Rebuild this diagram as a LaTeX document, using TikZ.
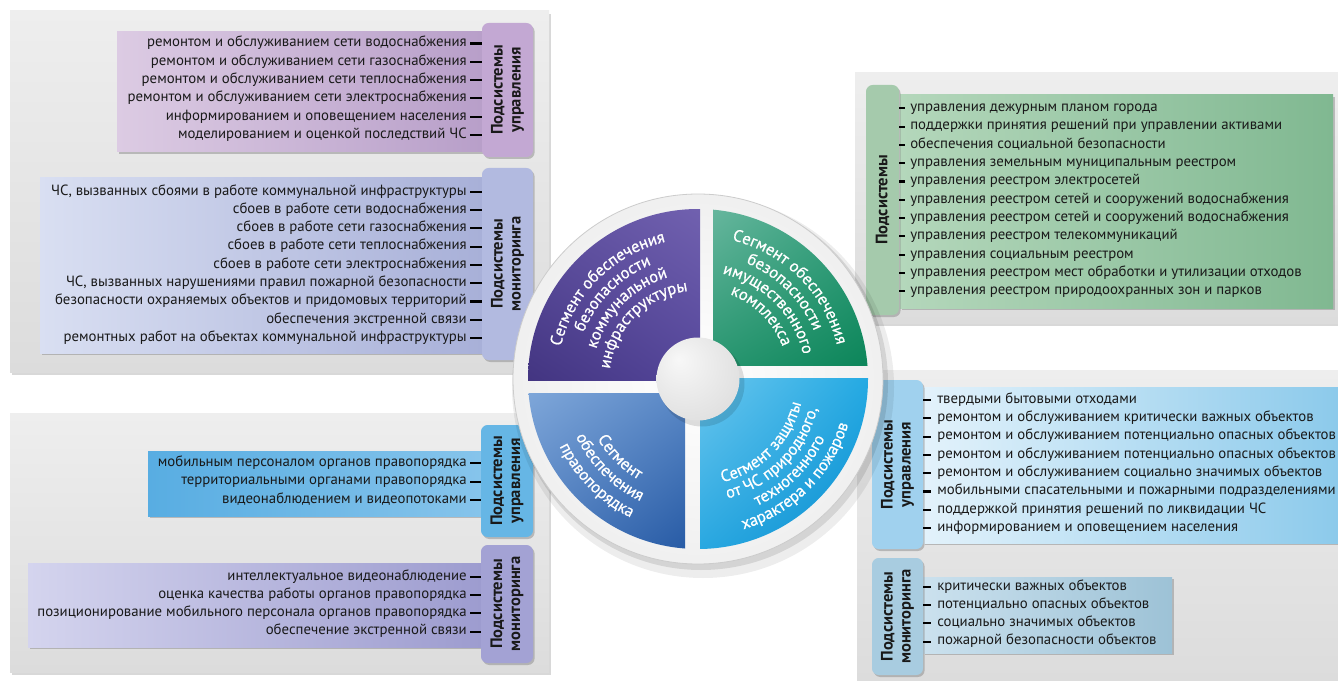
\documentclass[tikz,border=0pt]{standalone}
\usepackage{fontspec}
\setmainfont{PT Sans}
\newfontfamily\segfont[FakeBold=0.7]{PT Sans}
\usetikzlibrary{shadows,shadings,decorations.text,calc}
\definecolor{pnlA}{HTML}{EEEEEE}
\definecolor{pnlB}{HTML}{DCDCDC}
\definecolor{purL}{HTML}{DCCBE3}
\definecolor{purR}{HTML}{B89FC9}
\definecolor{purT}{HTML}{C3A8D3}
\definecolor{lavL}{HTML}{D9DFF2}
\definecolor{lavR}{HTML}{A8B0D8}
\definecolor{lavT}{HTML}{B2BAE0}
\definecolor{bluL}{HTML}{58ADE2}
\definecolor{bluR}{HTML}{86C4EB}
\definecolor{bluT}{HTML}{66B6E5}
\definecolor{vioL}{HTML}{D4D4EE}
\definecolor{vioR}{HTML}{9D9CCF}
\definecolor{vioT}{HTML}{A3A2D4}
\definecolor{grnL}{HTML}{B4D7BB}
\definecolor{grnR}{HTML}{80B891}
\definecolor{grnT}{HTML}{A5CAAC}
\definecolor{skyL}{HTML}{E3F2FB}
\definecolor{skyR}{HTML}{8CCAEB}
\definecolor{skyT}{HTML}{A0D1EE}
\definecolor{stlL}{HTML}{CBE1EE}
\definecolor{stlR}{HTML}{9DC2D6}
\definecolor{stlT}{HTML}{A8CCE0}
\definecolor{pA}{RGB}{96,81,161}\definecolor{pB}{RGB}{114,98,176}\definecolor{pC}{RGB}{66,52,128}\definecolor{pD}{RGB}{84,70,154}
\definecolor{gA}{RGB}{106,184,160}\definecolor{gB}{RGB}{48,158,122}\definecolor{gC}{RGB}{40,150,112}\definecolor{gD}{RGB}{10,132,88}
\definecolor{cA}{RGB}{106,198,238}\definecolor{cB}{RGB}{32,168,226}\definecolor{cC}{RGB}{37,166,224}\definecolor{cD}{RGB}{3,136,204}
\definecolor{bA}{RGB}{128,168,218}\definecolor{bB}{RGB}{90,136,198}\definecolor{bC}{RGB}{78,124,190}\definecolor{bD}{RGB}{36,88,163}
\pgfdeclareradialshading{myball}{\pgfpoint{-12bp}{12bp}}{%
  color(0bp)=(white!97!black); color(14bp)=(white!93!black); color(40bp)=(black!14); color(62bp)=(black!24)}
\begin{document}
\begin{tikzpicture}[x=0.75pt,y=0.75pt,
  panel/.style={top color=pnlA, bottom color=pnlB, drop shadow={shadow xshift=1.2pt,shadow yshift=-2.2pt,opacity=0.3}},
  box/.style={drop shadow={shadow xshift=1.2pt,shadow yshift=-1.5pt,opacity=0.45}},
  tab/.style={rounded corners=5pt, inner sep=0pt, drop shadow={shadow xshift=1.2pt,shadow yshift=-1.5pt,opacity=0.45}},
  tablabel/.style={rotate=90, align=center, font=\bfseries\fontsize{12.4}{13.5}\selectfont, inner sep=0pt, text=black!90},
  iteml/.style={anchor=mid east, inner sep=0pt, text=black!90, font=\fontsize{11.1}{13}\selectfont},
  itemr/.style={anchor=mid west, inner sep=0pt, text=black!90, font=\fontsize{11.1}{13}\selectfont},
  tick/.style={line width=1.6pt, black},
  segtext/.style={decorate, decoration={text along path, text align=center, text={|\color{white}\segfont\fontsize{12.4}{14}\selectfont|#1}}},
]
\useasboundingbox (0,0) rectangle (1338,-681);
\fill[white] (0,0) rectangle (1338,-681);

% ---------- panels ----------
\path[panel] (10,-11) rectangle (549,-372);
\path[panel] (10,-413) rectangle (549,-672);
\path[panel] (855,-73) rectangle (1338,-323);
\path[panel] (857,-370) rectangle (1338,-681);

% ---------- boxes ----------
\path[box, left color=purL, right color=purR] (117,-32) rectangle (482,-152);
\path[box, left color=lavL, right color=lavR] (40,-178) rectangle (482,-353);
\path[box, left color=bluL, right color=bluR] (148,-451) rectangle (482,-516);
\path[box, left color=vioL, right color=vioR] (28,-563) rectangle (482,-647);
\path[box, left color=grnL, right color=grnR] (900,-95) rectangle (1333,-308);
\path[box, left color=skyL, right color=skyR] (923,-387) rectangle (1338,-543);
\path[box, left color=stlL, right color=stlR] (923,-577) rectangle (1172,-653);

% ---------- tabs ----------
\node[tab, fill=purT, minimum width=38.25pt, minimum height=100.5pt] (tU) at (507.5,-90) {};
\node[tab, fill=lavT, minimum width=38.25pt, minimum height=144pt] (tM) at (507.5,-264) {};
\node[tab, fill=bluT, minimum width=39pt, minimum height=84pt] (tBU) at (507,-481) {};
\node[tab, fill=vioT, minimum width=39pt, minimum height=88.5pt] (tBM) at (507,-604) {};
\node[tab, fill=grnT, minimum width=24.75pt, minimum height=172.5pt] (tG) at (882.5,-200) {};
\node[tab, fill=skyT, minimum width=38.25pt, minimum height=126.75pt] (tRU) at (897.5,-464.5) {};
\node[tab, fill=stlT, minimum width=38.25pt, minimum height=87.75pt] (tRM) at (897.5,-616.5) {};

\node[tablabel] (lU) at (tU.center) {Подсистемы\\управления};
\node[tablabel] (lM) at (tM.center) {Подсистемы\\мониторинга};
\node[tablabel] (lBU) at (tBU.center) {Подсистемы\\управления};
\node[tablabel] (lBM) at (tBM.center) {Подсистемы\\мониторинга};
\node[tablabel] (lG) at (tG.center) {Подсистемы};
\node[tablabel] (lRU) at (tRU.center) {Подсистемы\\управления};
\node[tablabel] (lRM) at (tRM.center) {Подсистемы\\мониторинга};

% ---------- items: top left ----------
\foreach \t [count=\i] in {
  ремонтом и обслуживанием сети водоснабжения,
  ремонтом и обслуживанием сети газоснабжения,
  ремонтом и обслуживанием сети теплоснабжения,
  ремонтом и обслуживанием сети электроснабжения,
  информированием и оповещением населения,
  моделированием и оценкой последствий ЧС}{
  \node[iteml] (a\i) at (467,{-43.5-18.3*(\i-1)}) {\t};
  \draw[tick] ([xshift=2.25pt]a\i.mid east) -- (a\i.mid east -| tU.west);
}
\foreach \t [count=\i] in {
  {ЧС, вызванных сбоями в работе коммунальной инфраструктуры},
  сбоев в работе сети водоснабжения,
  сбоев в работе сети газоснабжения,
  сбоев в работе сети теплоснабжения,
  сбоев в работе сети электроснабжения,
  {ЧС, вызванных нарушениями правил пожарной безопасности},
  безопасности охраняемых объектов и придомовых территорий,
  обеспечения экстренной связи,
  ремонтных работ на объектах коммунальной инфраструктуры}{
  \node[iteml] (b\i) at (467,{-191.7-18.3*(\i-1)}) {\t};
  \draw[tick] ([xshift=2.25pt]b\i.mid east) -- (b\i.mid east -| tM.west);
}
% ---------- items: bottom left ----------
\foreach \t [count=\i] in {
  мобильным персоналом органов правопорядка,
  территориальными органами правопорядка,
  видеонаблюдением и видеопотоками}{
  \node[iteml] (c\i) at (467,{-463.3-18.3*(\i-1)}) {\t};
  \draw[tick] ([xshift=2.25pt]c\i.mid east) -- (c\i.mid east -| tBU.west);
}
\foreach \t [count=\i] in {
  интеллектуальное видеонаблюдение,
  оценка качества работы органов правопорядка,
  позиционирование мобильного персонала органов правопорядка,
  обеспечение экстренной связи}{
  \node[iteml] (d\i) at (467,{-576.7-18.3*(\i-1)}) {\t};
  \draw[tick] ([xshift=2.25pt]d\i.mid east) -- (d\i.mid east -| tBM.west);
}
% ---------- items: top right ----------
\foreach \t [count=\i] in {
  управления дежурным планом города,
  поддержки принятия решений при управлении активами,
  обеспечения социальной безопасности,
  управления земельным муниципальным реестром,
  управления реестром электросетей,
  управления реестром сетей и сооружений водоснабжения,
  управления реестром сетей и сооружений водоснабжения,
  управления реестром телекоммуникаций,
  управления социальным реестром,
  управления реестром мест обработки и утилизации отходов,
  управления реестром природоохранных зон и парков}{
  \node[itemr] (e\i) at (910,{-108.3-18.3*(\i-1)}) {\t};
  \draw[tick] (e\i.mid west -| tG.east) -- ([xshift=-3.75pt]e\i.mid west);
}
% ---------- items: bottom right ----------
\foreach \t [count=\i] in {
  твердыми бытовыми отходами,
  ремонтом и обслуживанием критически важных объектов,
  ремонтом и обслуживанием потенциально опасных объектов,
  ремонтом и обслуживанием потенциально опасных объектов,
  ремонтом и обслуживанием социально значимых объектов,
  мобильными спасательными и пожарными подразделениями,
  поддержкой принятия решений по ликвидации ЧС,
  информированием и оповещением населения}{
  \node[itemr] (f\i) at (937,{-400-18.3*(\i-1)}) {\t};
  \draw[tick] (f\i.mid west -| tRU.east) -- ([xshift=-4.5pt]f\i.mid west);
}
\foreach \t [count=\i] in {
  критически важных объектов,
  потенциально опасных объектов,
  социально значимых объектов,
  пожарной безопасности объектов}{
  \node[itemr] (g\i) at (937,{-586.7-18.3*(\i-1)}) {\t};
  \draw[tick] (g\i.mid west -| tRM.east) -- ([xshift=-4.5pt]g\i.mid west);
}

% ---------- central wheel ----------
\coordinate (C) at (698,-379);
\fill[black, opacity=0.07] (703,-387) circle (191);
\fill[black, opacity=0.10] (701,-383) circle (187);
\shade[inner color=white, outer color=black!6] (C) circle (185);
\draw[black!20, line width=0.6pt] (C) circle (185);

\begin{scope}
  \clip (C) circle (170);
  \shade[upper left=pA, upper right=pB, lower left=pC, lower right=pD] (520,-380) rectangle (700,-200);
  \shade[upper left=gA, upper right=gB, lower left=gC, lower right=gD] (713,-365) rectangle (880,-200);
  \shade[upper left=cA, upper right=cB, lower left=cC, lower right=cD] (700,-378) rectangle (880,-560);
  \shade[upper left=bA, upper right=bB, lower left=bC, lower right=bD] (520,-393) rectangle (685,-560);
\end{scope}

% curved segment titles
\path[segtext={Сегмент обеспечения}] ($(C)+(195:141)$) arc[start angle=195, end angle=75, radius=141];
\path[segtext={безопасности}] ($(C)+(195:123.5)$) arc[start angle=195, end angle=75, radius=123.5];
\path[segtext={коммунальной}] ($(C)+(195:106)$) arc[start angle=195, end angle=75, radius=106];
\path[segtext={инфраструктуры}] ($(C)+(195:88.5)$) arc[start angle=195, end angle=75, radius=88.5];

\path[segtext={Сегмент обеспечения}] ($(C)+(105:143)$) arc[start angle=105, end angle=-15, radius=143];
\path[segtext={безопасности}] ($(C)+(105:125.5)$) arc[start angle=105, end angle=-15, radius=125.5];
\path[segtext={имущественного}] ($(C)+(105:108)$) arc[start angle=105, end angle=-15, radius=108];
\path[segtext={комплекса}] ($(C)+(105:90.5)$) arc[start angle=105, end angle=-15, radius=90.5];

\path[segtext={Сегмент защиты}] ($(C)+(-105:106)$) arc[start angle=-105, end angle=15, radius=106];
\path[segtext={от ЧС природного,}] ($(C)+(-105:123)$) arc[start angle=-105, end angle=15, radius=123];
\path[segtext={техногенного}] ($(C)+(-105:140)$) arc[start angle=-105, end angle=15, radius=140];
\path[segtext={характера и пожаров}] ($(C)+(-105:157)$) arc[start angle=-105, end angle=15, radius=157];

\path[segtext={Сегмент}] ($(C)+(165:117)$) arc[start angle=165, end angle=285, radius=117];
\path[segtext={обеспечения}] ($(C)+(165:135)$) arc[start angle=165, end angle=285, radius=135];
\path[segtext={правопорядка}] ($(C)+(165:154)$) arc[start angle=165, end angle=285, radius=154];

% centre ball
\fill[black, opacity=0.12] (702,-384) circle (42.5);
\shade[shading=myball] (C) circle (41.5);
\end{tikzpicture}
\end{document}
